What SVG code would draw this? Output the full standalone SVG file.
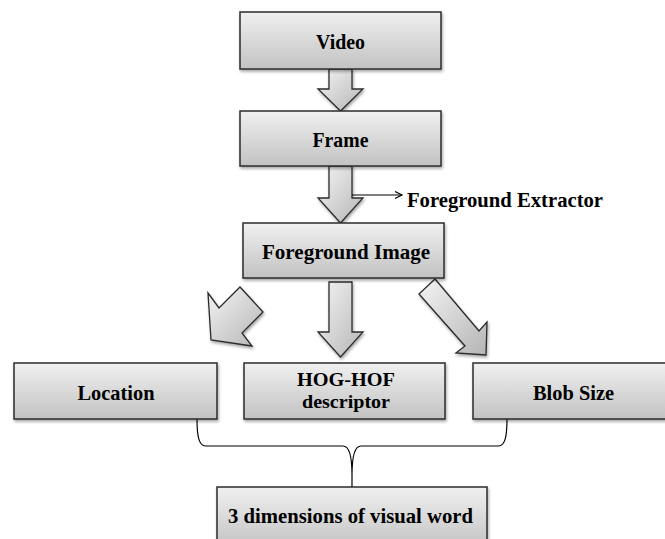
<svg xmlns="http://www.w3.org/2000/svg" width="665" height="539" viewBox="0 0 665 539">
  <defs>
    <linearGradient id="boxGrad" x1="0" y1="0" x2="0" y2="1">
      <stop offset="0" stop-color="#f0f0f0"/>
      <stop offset="1" stop-color="#c2c2c2"/>
    </linearGradient>
    <linearGradient id="arrowGrad" x1="0" y1="0" x2="1" y2="1">
      <stop offset="0" stop-color="#f4f4f4"/>
      <stop offset="1" stop-color="#b5b5b5"/>
    </linearGradient>
    <filter id="shadow" x="-10%" y="-20%" width="130%" height="160%">
      <feDropShadow dx="1" dy="2" stdDeviation="1.5" flood-color="#000" flood-opacity="0.35"/>
    </filter>
    <marker id="openArrow" markerWidth="10" markerHeight="10" refX="8" refY="4" orient="auto" markerUnits="userSpaceOnUse">
      <path d="M1,0.5 L8,4 L1,7.5" fill="none" stroke="#000" stroke-width="1.2"/>
    </marker>
  </defs>
  <style>
    .box { fill: url(#boxGrad); stroke: #2b2b2b; stroke-width: 1.5; filter: url(#shadow); }
    .fat { fill: url(#arrowGrad); stroke: #2b2b2b; stroke-width: 1.3; stroke-linejoin: miter; filter: url(#shadow); }
    .lbl { font-family: "Liberation Serif", "Times New Roman", serif; font-weight: bold; font-size: 22px; fill: #000; text-anchor: middle; }
    .sm { font-size: 19px; }
    .line { fill: none; stroke: #000; stroke-width: 1.2; }
  </style>

  <g id="connectors">
    <polygon class="fat" points="329,69 352,69 352,89 363,89 340.5,111 318,89 329,89"/>
    <polygon class="fat" points="329,166 352,166 352,198 363,198 340.5,223 318,198 329,198"/>
    <line class="line" x1="352" y1="195" x2="402" y2="195" marker-end="url(#openArrow)"/>
    <polygon class="fat" points="329,282 352,282 352,332 363,332 340.5,357 318,332 329,332"/>
    <polygon class="fat" points="240,287 263,312 242,333 252,346 211,340 208,293 219,308"/>
    <polygon class="fat" points="435,279 479,331 487,322 486,355 456,353 465,346 419,294"/>
    <path class="line" d="M197,419 C197,440 200,446 206,446 L343,446 C349,446 352,455 352,475 C352,455 355,446 361,446 L498,446 C504,446 507,440 507,419"/>
    <line class="line" x1="352" y1="475" x2="352" y2="487"/>
  </g>

  <g id="label-extractor">
    <text class="lbl" x="407" y="207" style="text-anchor:start" textLength="196" lengthAdjust="spacingAndGlyphs">Foreground Extractor</text>
  </g>

  <g id="video">
    <rect class="box" x="240" y="12" width="201" height="57"/>
    <text class="lbl" x="340.5" y="49" textLength="49" lengthAdjust="spacingAndGlyphs">Video</text>
  </g>
  <g id="frame">
    <rect class="box" x="240" y="111" width="201" height="55"/>
    <text class="lbl" x="340.5" y="147" textLength="56" lengthAdjust="spacingAndGlyphs">Frame</text>
  </g>
  <g id="foreground-image">
    <rect class="box" x="243" y="223" width="201" height="55"/>
    <text class="lbl" x="346" y="259" textLength="168" lengthAdjust="spacingAndGlyphs">Foreground Image</text>
  </g>
  <g id="location">
    <rect class="box" x="14" y="363" width="203" height="56"/>
    <text class="lbl" x="116" y="400" textLength="77" lengthAdjust="spacingAndGlyphs">Location</text>
  </g>
  <g id="hog-hof">
    <rect class="box" x="244" y="363" width="201" height="56"/>
    <text class="lbl sm" x="346" y="386" textLength="98" lengthAdjust="spacingAndGlyphs">HOG-HOF</text>
    <text class="lbl sm" x="346" y="408" textLength="88" lengthAdjust="spacingAndGlyphs">descriptor</text>
  </g>
  <g id="blob-size">
    <rect class="box" x="473" y="363" width="201" height="56"/>
    <text class="lbl" x="573.5" y="400" textLength="81" lengthAdjust="spacingAndGlyphs">Blob Size</text>
  </g>
  <g id="visual-word">
    <rect class="box" x="217" y="487" width="270" height="62"/>
    <text class="lbl" x="350.5" y="523" textLength="245" lengthAdjust="spacingAndGlyphs">3 dimensions of visual word</text>
  </g>
</svg>
